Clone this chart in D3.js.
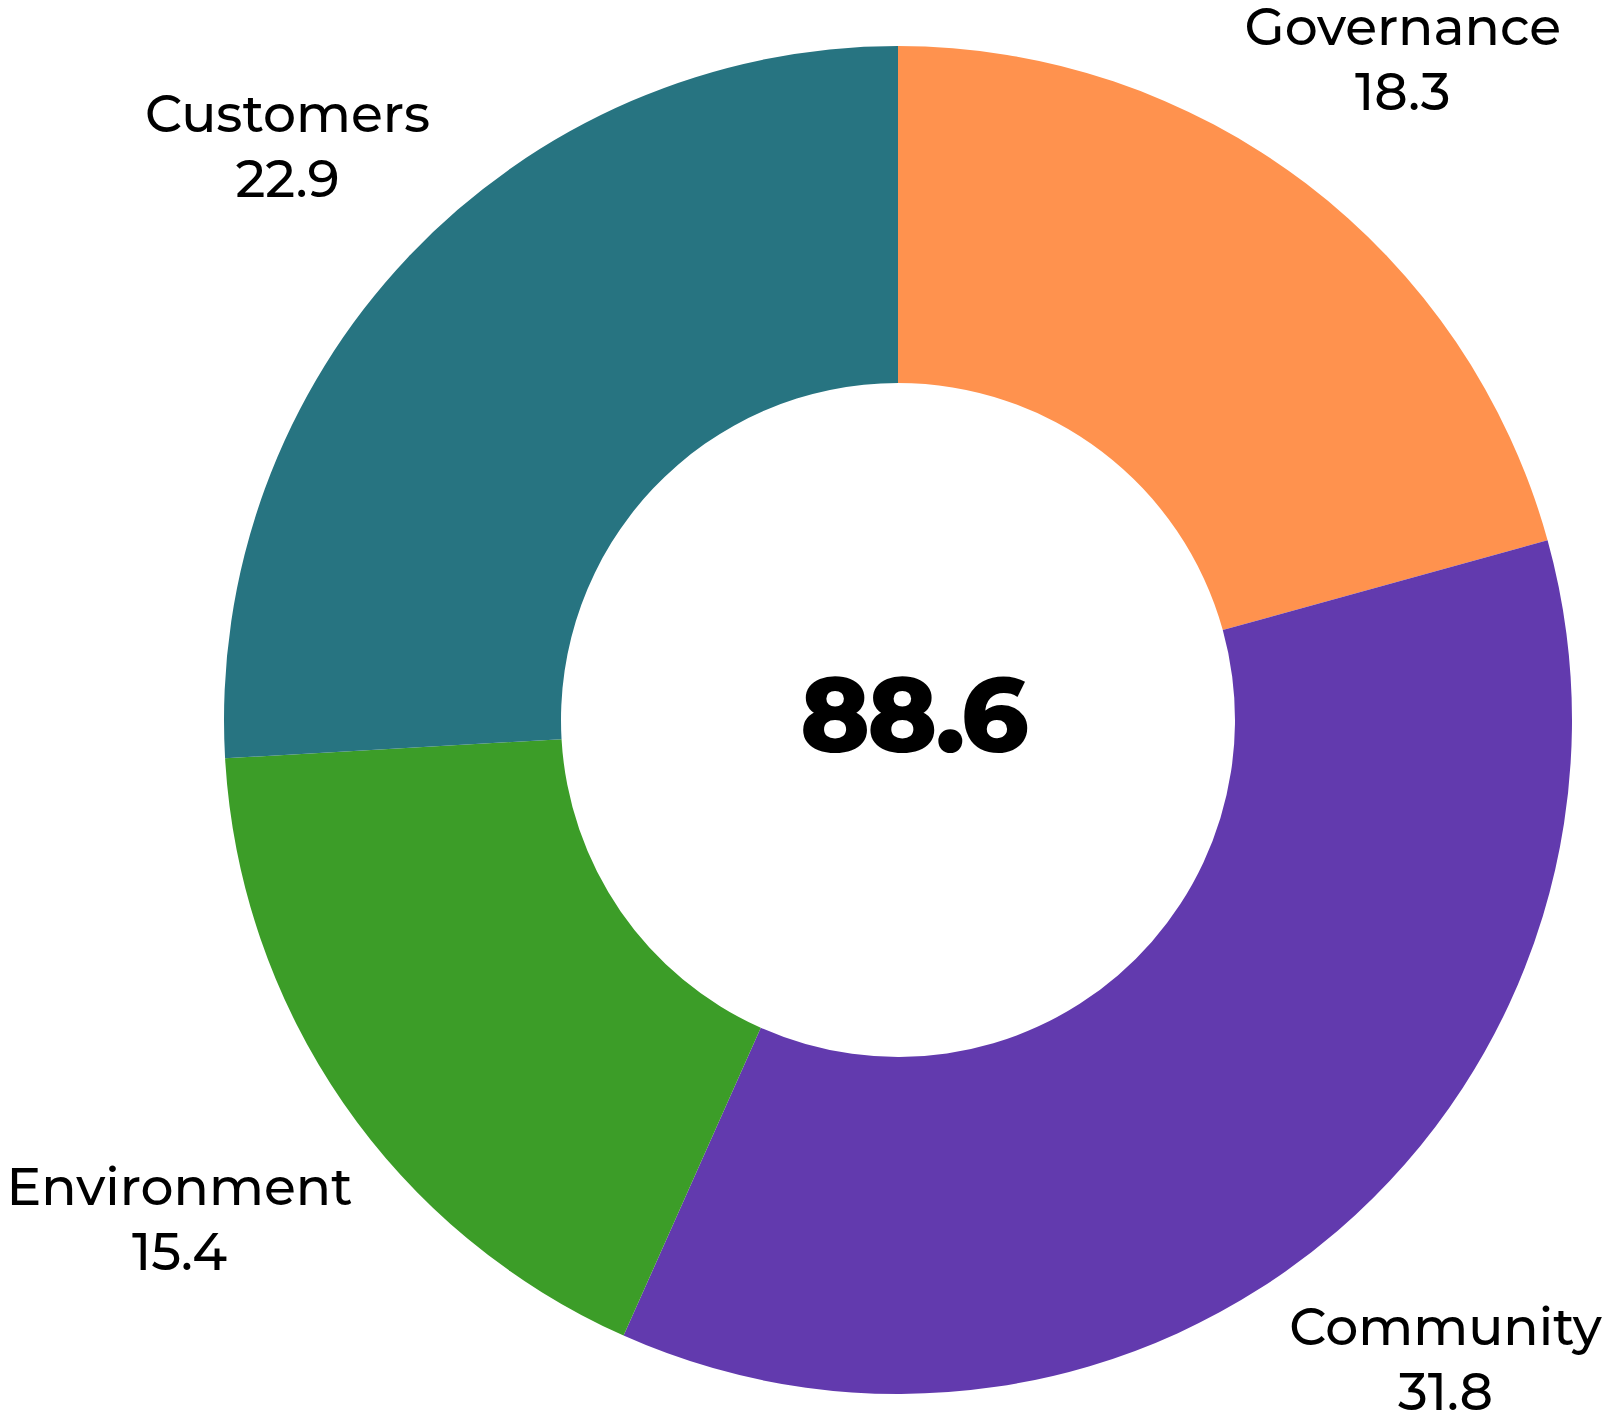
<!DOCTYPE html>
<html>
<head>
<meta charset="utf-8">
<script src="https://cdn.jsdelivr.net/npm/d3@7"></script>
<style>
  html, body { margin: 0; padding: 0; background: #ffffff; }
  svg { display: block; }
</style>
</head>
<body>
<svg id="chart" width="1613" height="1422"></svg>
<script>
const categories = ["Governance", "Community", "Environment", "Customers"];
const values = [18.3, 31.8, 15.4, 22.9];
const colors = ["#FF924E", "#623AAE", "#3C9D28", "#277481"];
const totalLabel = "88.6";

const W = 1613, H = 1422;
const cx = 898, cy = 720;
const outerR = 674, innerR = 337;
const labelGapR = 704;      // radius touched by the nearest corner of each label block
const fs = 52, capH = fs * 0.7, lineGap = 65;

const data = categories.map((c, i) => ({ name: c, value: values[i], color: colors[i] }));

const svg = d3.select("#chart");
const g = svg.append("g").attr("transform", `translate(${cx},${cy})`);

const pie = d3.pie().value(d => d.value).sort(null);
const arc = d3.arc().innerRadius(innerR).outerRadius(outerR);

const arcs = pie(data);

g.selectAll("path.slice")
  .data(arcs)
  .join("path")
  .attr("class", "slice")
  .attr("d", arc)
  .attr("fill", d => d.data.color);

const font = "Montserrat, 'DejaVu Sans', sans-serif";
const blockH = capH + lineGap;

const labels = g.selectAll("g.lbl")
  .data(arcs)
  .join("g")
  .attr("class", "lbl");

labels.append("text")
  .attr("class", "name")
  .attr("text-anchor", "middle")
  .attr("y", -blockH / 2 + capH)
  .attr("font-family", font)
  .attr("font-weight", 500)
  .attr("font-size", fs)
  .attr("fill", "#000")
  .text(d => d.data.name);

labels.append("text")
  .attr("class", "val")
  .attr("text-anchor", "middle")
  .attr("y", blockH / 2)
  .attr("font-family", font)
  .attr("font-weight", 500)
  .attr("font-size", fs)
  .attr("fill", "#000")
  .text(d => d3.format(".1f")(d.data.value));

labels.attr("transform", function(d) {
  const a = (d.startAngle + d.endAngle) / 2;
  const ux = Math.sin(a), uy = -Math.cos(a);
  const w = Math.max(
    d3.select(this).select("text.name").node().getComputedTextLength(),
    d3.select(this).select("text.val").node().getComputedTextLength());
  const dx = -Math.sign(ux) * w / 2, dy = -Math.sign(uy) * blockH / 2;
  const ud = ux * dx + uy * dy;
  const dd = dx * dx + dy * dy;
  const t = -ud + Math.sqrt(ud * ud - dd + labelGapR * labelGapR);
  return `translate(${t * ux},${t * uy + 3})`;
});

g.append("text")
  .attr("text-anchor", "middle")
  .attr("x", 15)
  .attr("y", 32)
  .attr("font-family", font)
  .attr("font-weight", 800)
  .attr("font-size", 105)
  .attr("letter-spacing", -3)
  .attr("fill", "#000")
  .text(totalLabel);
</script>
</body>
</html>
